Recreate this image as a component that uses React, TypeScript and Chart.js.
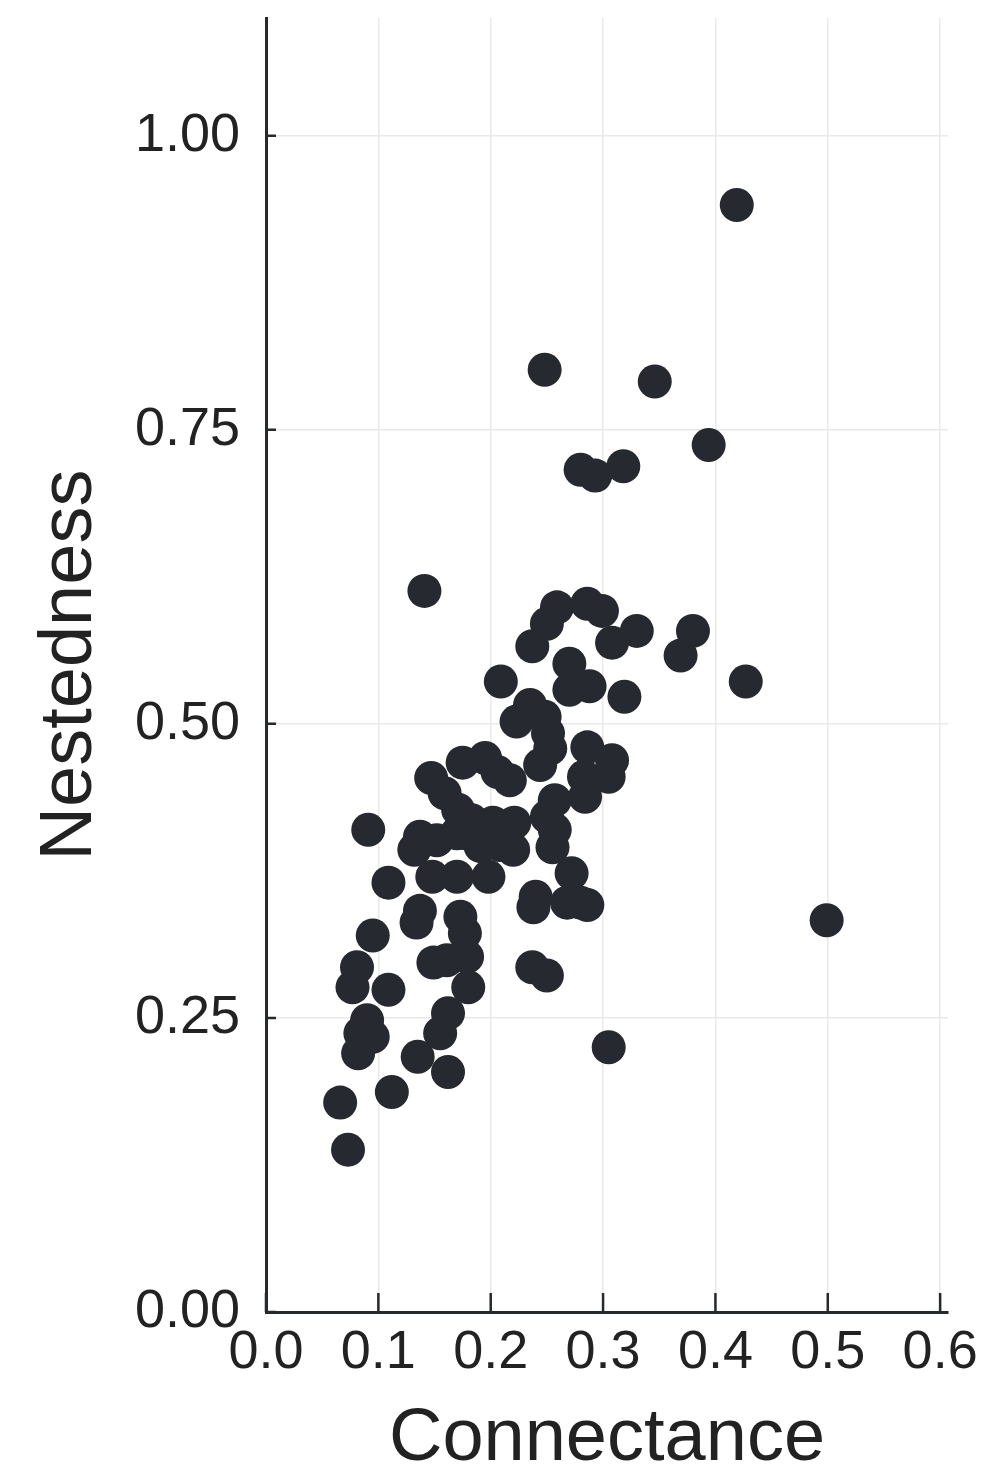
import React, { useEffect, useRef } from "react";
import { Chart, registerables } from "chart.js";

Chart.register(...registerables);

// Connectance (x) and Nestedness (y) of each network
const connectance: number[] = [
  0.419, 0.248, 0.346, 0.394, 0.280, 0.293, 0.318, 0.141, 0.499, 0.305,
  0.427, 0.380, 0.369, 0.259, 0.250, 0.237, 0.286, 0.299, 0.308, 0.330,
  0.270, 0.270, 0.288, 0.319, 0.209, 0.235, 0.223, 0.248, 0.251, 0.253,
  0.244, 0.195, 0.175, 0.217, 0.206, 0.286, 0.308, 0.305, 0.283, 0.284,
  0.257, 0.250, 0.255, 0.257, 0.147, 0.159, 0.171, 0.091, 0.137, 0.132,
  0.152, 0.170, 0.183, 0.197, 0.215, 0.221, 0.208, 0.191, 0.220, 0.109,
  0.148, 0.170, 0.198, 0.272, 0.280, 0.286, 0.268, 0.240, 0.238, 0.137,
  0.134, 0.173, 0.177, 0.179, 0.180, 0.149, 0.161, 0.095, 0.081, 0.077,
  0.109, 0.237, 0.250, 0.162, 0.155, 0.135, 0.162, 0.090, 0.084, 0.082,
  0.095, 0.112, 0.066, 0.073, 0.202, 0.178,
];
const nestedness: number[] = [
  0.941, 0.801, 0.791, 0.737, 0.716, 0.711, 0.719, 0.613, 0.333, 0.225,
  0.536, 0.579, 0.558, 0.599, 0.585, 0.566, 0.602, 0.596, 0.569, 0.579,
  0.551, 0.529, 0.532, 0.523, 0.536, 0.516, 0.502, 0.506, 0.492, 0.479,
  0.465, 0.471, 0.467, 0.452, 0.459, 0.480, 0.469, 0.455, 0.455, 0.438,
  0.435, 0.421, 0.395, 0.410, 0.454, 0.441, 0.427, 0.410, 0.404, 0.393,
  0.401, 0.407, 0.418, 0.411, 0.407, 0.416, 0.397, 0.396, 0.393, 0.365,
  0.370, 0.370, 0.370, 0.373, 0.348, 0.346, 0.348, 0.353, 0.344, 0.341,
  0.331, 0.336, 0.322, 0.302, 0.276, 0.297, 0.299, 0.320, 0.293, 0.276,
  0.274, 0.293, 0.286, 0.254, 0.237, 0.217, 0.204, 0.248, 0.237, 0.220,
  0.234, 0.187, 0.178, 0.138, 0.416, 0.407,
];

const xTicks: number[] = [0.0, 0.1, 0.2, 0.3, 0.4, 0.5, 0.6];
const yTicks: number[] = [0.0, 0.25, 0.5, 0.75, 1.0];
const xTitle = "Connectance";
const yTitle = "Nestedness";

const INK = "#26292f";
const FONT = "'Liberation Sans', Arial, Helvetica, sans-serif";

const innerTicks = {
  id: "innerTicks",
  afterDatasetsDraw(chart: any) {
    const { ctx, chartArea, scales } = chart;
    ctx.save();
    ctx.strokeStyle = INK;
    ctx.lineWidth = 2.5;
    ctx.beginPath();
    xTicks.forEach((v) => {
      const px = scales.x.getPixelForValue(v);
      ctx.moveTo(px, chartArea.bottom);
      ctx.lineTo(px, chartArea.bottom - 19);
    });
    yTicks.forEach((v) => {
      const py = scales.y.getPixelForValue(v);
      ctx.moveTo(chartArea.left, py);
      ctx.lineTo(chartArea.left + 10, py);
    });
    ctx.stroke();
    ctx.restore();
  },
};

export default function App() {
  const ref = useRef<HTMLCanvasElement | null>(null);

  useEffect(() => {
    if (!ref.current) return;
    const points = connectance.map((c, i) => ({ x: c, y: nestedness[i] }));
    const chart = new Chart(ref.current, {
      type: "scatter",
      data: {
        datasets: [
          {
            data: points,
            backgroundColor: INK,
            borderWidth: 0,
            pointRadius: 17,
            pointHoverRadius: 17,
          },
        ],
      },
      options: {
        animation: false,
        responsive: true,
        maintainAspectRatio: false,
        layout: { padding: { top: 18, right: 41, left: 35, bottom: 0 } },
        plugins: { legend: { display: false }, tooltip: { enabled: false } },
        scales: {
          x: {
            type: "linear",
            min: 0,
            max: 0.607,
            afterFit: (s: any) => {
              s.height = 163;
              s.paddingLeft = 0;
              s.paddingRight = 0;
            },
            afterBuildTicks: (s: any) => {
              s.ticks = xTicks.map((v) => ({ value: v }));
            },
            ticks: {
              padding: 9,
              color: "#222",
              font: { family: FONT, size: 54 },
              callback: (v: any) => Number(v).toFixed(1),
              autoSkip: false,
              maxRotation: 0,
            },
            grid: { color: "#e9e9e9", lineWidth: 1.5, drawTicks: false },
            border: { display: true, color: INK, width: 3 },
            title: {
              display: true,
              text: xTitle,
              color: "#222",
              font: { family: FONT, size: 74, lineHeight: 0.95 },
              padding: 0,
            },
          },
          y: {
            type: "linear",
            min: 0,
            max: 1.1,
            afterFit: (s: any) => {
              s.width = 231;
              s.paddingTop = 0;
              s.paddingBottom = 0;
            },
            afterBuildTicks: (s: any) => {
              s.ticks = yTicks.map((v) => ({ value: v }));
            },
            ticks: {
              padding: 26,
              color: "#222",
              font: { family: FONT, size: 54 },
              callback: (v: any) => Number(v).toFixed(2),
              autoSkip: false,
            },
            grid: { color: "#e9e9e9", lineWidth: 1.5, drawTicks: false },
            border: { display: true, color: INK, width: 3 },
            title: {
              display: true,
              text: yTitle,
              color: "#222",
              font: { family: FONT, size: 74, lineHeight: 0.95 },
              padding: 0,
            },
          },
        },
      },
      plugins: [innerTicks],
    });
    return () => chart.destroy();
  }, []);

  return (
    <div
      style={{
        position: "absolute",
        left: 0,
        top: 0,
        width: 989,
        height: 1475,
        background: "#fff",
      }}
    >
      <canvas ref={ref} />
    </div>
  );
}
